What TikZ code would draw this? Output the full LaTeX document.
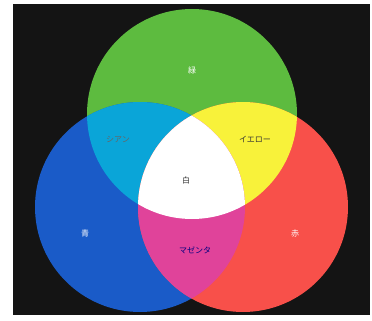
\documentclass[tikz,border=0pt]{standalone}
\usepackage{fontspec}
\newfontfamily\jpfont{Noto Sans CJK JP}
\definecolor{cgreen}{HTML}{5DBB3F}
\definecolor{cblue}{HTML}{1A5BC8}
\definecolor{cred}{HTML}{F8504A}
\definecolor{ccyan}{HTML}{0AA5D8}
\definecolor{cyellow}{HTML}{F8F23A}
\definecolor{cmag}{HTML}{E0439A}
\definecolor{cbg}{HTML}{141414}
\begin{document}
\begin{tikzpicture}[x=1pt,y=-1pt,
  lbl/.style={font=\jpfont\fontsize{8}{9}\selectfont, inner sep=1pt},
  lblw/.style={lbl, text=white},
  lbld/.style={lbl, text=black!80}]
\useasboundingbox (0,0) rectangle (372,321);
\fill[white] (0,0) rectangle (372,321);
\fill[cbg] (13,4) rectangle (370,315);
\def\R{105}
\coordinate (G) at (192,114);
\coordinate (B) at (140,207);
\coordinate (Rd) at (243,207);
\fill[cgreen] (G) circle (\R);
\fill[cblue] (B) circle (\R);
\fill[cred] (Rd) circle (\R);
\begin{scope}
  \clip (G) circle (\R);
  \fill[ccyan] (B) circle (\R);
  \fill[cyellow] (Rd) circle (\R);
\end{scope}
\begin{scope}
  \clip (B) circle (\R);
  \fill[cmag] (Rd) circle (\R);
  \clip (Rd) circle (\R);
  \fill[white] (G) circle (\R);
\end{scope}
\node[lblw] (tg) at (192,70) {緑};
\node[lbl, text=black!60] (tc) at (118,140) {シアン};
\node[lbld] (ty) at (255,139) {イエロー};
\node[lbld] (tw) at (186,180) {白};
\node[lblw] (tb) at (85,233) {青};
\node[lblw] (tr) at (295,233) {赤};
\node[lbl, text=blue!50!black] (tm) at (195,250) {マゼンタ};
\end{tikzpicture}
\end{document}
